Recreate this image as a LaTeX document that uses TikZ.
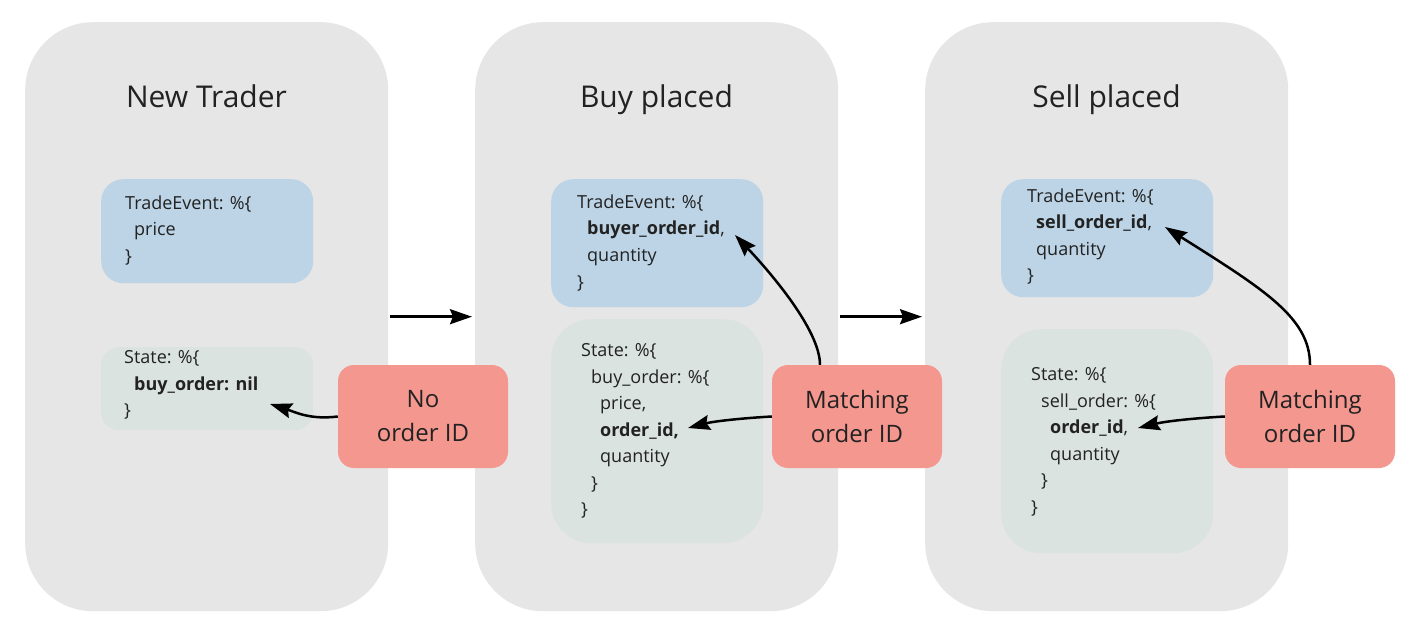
\documentclass[tikz,border=0pt]{standalone}
\usepackage{fontspec}
\setmainfont{Open Sans}
\usetikzlibrary{arrows.meta}
\definecolor{panelgray}{HTML}{E6E6E6}
\definecolor{eventblue}{HTML}{BCD4E6}
\definecolor{stategreen}{HTML}{DAE3DF}
\definecolor{matchred}{HTML}{F4978E}
\definecolor{textdark}{HTML}{222222}
\begin{document}
\begin{tikzpicture}[x=1pt,y=-1pt,
  panel/.style={fill=panelgray, rounded corners=68pt, minimum width=363pt, minimum height=589pt, anchor=north west, inner sep=0pt},
  eventbox/.style={fill=eventblue, rounded corners=22pt, minimum width=212pt, anchor=north west, inner sep=0pt},
  statebox/.style={fill=stategreen, rounded corners=22pt, minimum width=212pt, anchor=north west, inner sep=0pt},
  matchbox/.style={fill=matchred, rounded corners=16pt, minimum width=170pt, minimum height=103pt, inner sep=0pt, align=center, text=textdark, font=\fontsize{24}{34}\selectfont},
  field/.style={anchor=base west, inner sep=0pt, text=textdark, font=\fontsize{18}{22}\selectfont},
  title/.style={anchor=base, inner sep=0pt, text=textdark, font=\fontsize{30}{36}\selectfont},
  flow/.style={line width=2.5pt, -{Stealth[length=22pt,width=15pt,inset=3pt]}}
]
\fill[white] (0,0) rectangle (1421,636);
\useasboundingbox (0,0) rectangle (1421,636);

% panels
\node[panel] (p1) at (25,22) {};
\node[panel] (p2) at (475,22) {};
\node[panel] (p3) at (925,22) {};

\node[title] (t1) at (206.5,107.5) {New Trader};
\node[title] (t2) at (656.5,107.5) {Buy placed};
\node[title] (t3) at (1106.5,107.5) {Sell placed};

% boxes
\node[eventbox, minimum height=104pt] (ev1) at (101,179) {};
\node[statebox, minimum height=83pt, rounded corners=18pt] (st1) at (101,347) {};
\node[eventbox, minimum height=128pt] (ev2) at (551,179) {};
\node[statebox, minimum height=224pt, rounded corners=40pt] (st2) at (551,319) {};
\node[eventbox, minimum height=118pt] (ev3) at (1001,179) {};
\node[statebox, minimum height=224pt, rounded corners=40pt] (st3) at (1001,329) {};

% panel 1 texts
\node[field] (e1a) at (125,209.5) {TradeEvent: \%\{};
\node[field] (e1b) at (134,236) {price};
\node[field] (e1c) at (125,262.5) {\}};
\node[field] (s1a) at (124,363.5) {State: \%\{};
\node[field] (s1b) at (134,390) {\textbf{buy\_order: nil}};
\node[field] (s1c) at (124,416.5) {\}};

% panel 2 texts
\node[field] (e2a) at (577,208.5) {TradeEvent: \%\{};
\node[field] (e2b) at (587,235) {\textbf{buyer\_order\_id},};
\node[field] (e2c) at (587,261.5) {quantity};
\node[field] (e2d) at (577,288) {\}};
\node[field] (s2a) at (581,356.5) {State: \%\{};
\node[field] (s2b) at (591,383) {buy\_order: \%\{};
\node[field] (s2c) at (600,409.5) {price,};
\node[field] (s2d) at (600,436) {\textbf{order\_id,}};
\node[field] (s2e) at (600,462.5) {quantity};
\node[field] (s2f) at (591,489) {\}};
\node[field] (s2g) at (581,515.5) {\}};

% panel 3 texts
\node[field] (e3a) at (1027,202.5) {TradeEvent: \%\{};
\node[field] (e3b) at (1036,229) {\textbf{sell\_order\_id},};
\node[field] (e3c) at (1036,255.5) {quantity};
\node[field] (e3d) at (1027,282) {\}};
\node[field] (s3a) at (1031,380.5) {State: \%\{};
\node[field] (s3b) at (1041,407) {sell\_order: \%\{};
\node[field] (s3c) at (1050,433.5) {\textbf{order\_id},};
\node[field] (s3d) at (1050,460) {quantity};
\node[field] (s3e) at (1041,486.5) {\}};
\node[field] (s3f) at (1031,513) {\}};

% red boxes
\node[matchbox] (m1) at (423,416.5) {No\\order ID};
\node[matchbox] (m2) at (857,416.5) {Matching\\order ID};
\node[matchbox] (m3) at (1310,416.5) {Matching\\order ID};

% arrow targets
\coordinate (a1) at (270,404);
\coordinate (a2) at (735,235);
\coordinate (a3) at (688,428);
\coordinate (a4) at (1165,227);
\coordinate (a5) at (1138,428);

% connectors
\draw[flow, shorten <=2pt, shorten >=3pt] (p1.east) -- (p2.west);
\draw[flow, shorten <=2pt, shorten >=3pt] (p2.east) -- (p3.west);
\draw[flow] (m1.west) .. controls (310,420) and (295,412) .. (a1);
\draw[flow] ([xshift=-37pt]m2.north) .. controls (820,330) and (770,272) .. (a2);
\draw[flow] (m2.west) .. controls (745,418) and (715,421) .. (a3);
\draw[flow] (m3.north) .. controls (1310,318) and (1265,290) .. (a4);
\draw[flow] (m3.west) .. controls (1197,418) and (1167,421) .. (a5);
\end{tikzpicture}
\end{document}
